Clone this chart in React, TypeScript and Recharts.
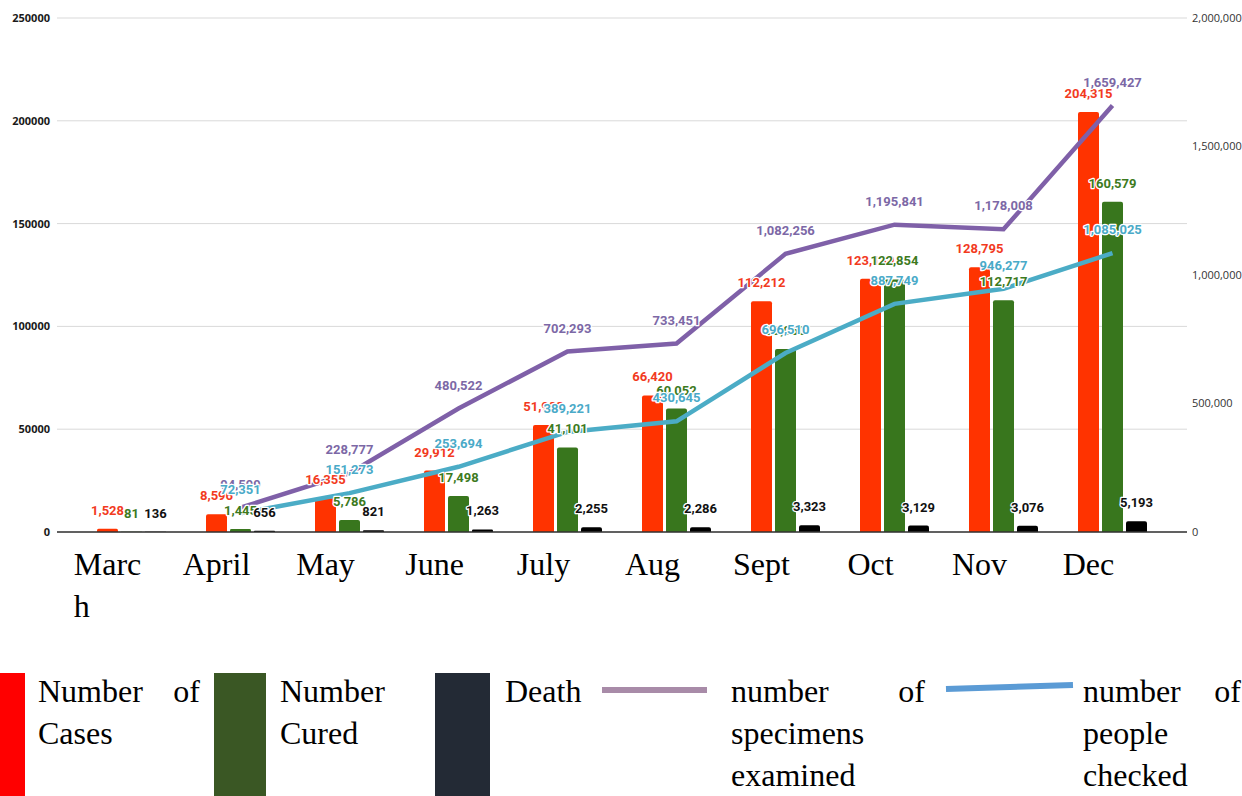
import React from 'react';
import {
  ComposedChart,
  Bar,
  Line,
  XAxis,
  YAxis,
  CartesianGrid,
  LabelList
} from 'recharts';

// monthly figures
const months = ['March', 'April', 'May', 'June', 'July', 'Aug', 'Sept', 'Oct', 'Nov', 'Dec'];
const cases = [1528, 8596, 16355, 29912, 51983, 66420, 112212, 123139, 128795, 204315];
const cured = [81, 1445, 5786, 17498, 41101, 60052, 89060, 122854, 112717, 160579];
const deaths = [136, 656, 821, 1263, 2255, 2286, 3323, 3129, 3076, 5193];
const specimens = [null, 94599, 228777, 480522, 702293, 733451, 1082256, 1195841, 1178008, 1659427];
const peopleChecked = [null, 72351, 151273, 253694, 389221, 430645, 696510, 887749, 946277, 1085025];

const leftTicks = [0, 50000, 100000, 150000, 200000, 250000];
const rightTicks = [0, 500000, 1000000, 1500000, 2000000];

const data = months.map((month, i) => ({
  month,
  cases: cases[i],
  cured: cured[i],
  deaths: deaths[i],
  specimens: specimens[i],
  people: peopleChecked[i]
}));

const SERIF = "'Liberation Serif', 'Times New Roman', serif";

let measureCtx: CanvasRenderingContext2D | null = null;
const textWidth = (s: string) => {
  if (!measureCtx) measureCtx = document.createElement('canvas').getContext('2d');
  if (!measureCtx) return s.length * 16;
  measureCtx.font = `32px ${SERIF}`;
  return measureCtx.measureText(s).width;
};

// break a word by characters when it does not fit the column
const wrapChars = (s: string, max: number) => {
  const out: string[] = [];
  let cur = '';
  for (const ch of s) {
    if (cur && textWidth(cur + ch) > max) {
      out.push(cur);
      cur = ch;
    } else cur += ch;
  }
  if (cur) out.push(cur);
  return out;
};

const MonthTick = (props: any) => {
  const { x, y, payload } = props;
  const lines = wrapChars(String(payload.value), 75);
  const cx = x - 24;
  const left = cx - textWidth(lines[0]) / 2;
  return (
    <text x={left} y={y + 43} textAnchor="start" fontFamily={SERIF} fontSize={32} fill="#000">
      {lines.map((l, i) => (
        <tspan key={i} x={left} dy={i === 0 ? 0 : 42}>{l}</tspan>
      ))}
    </text>
  );
};

const valueLabel = (color: string, offset: number) => (props: any) => {
  const { value } = props;
  if (value === null || value === undefined) return null;
  const vb = props.viewBox ?? props;
  const x = Number(vb.x) + Number(vb.width || 0) / 2;
  const y = Number(vb.y) - offset;
  if (!isFinite(x) || !isFinite(y)) return null;
  return (
    <text
      x={x}
      y={y}
      textAnchor="middle"
      fill={color}
      fontSize={13}
      fontWeight={700}
      fontFamily="Roboto, sans-serif"
      stroke="#fff"
      strokeWidth={2.5}
      strokeLinejoin="round"
      paintOrder="stroke"
    >
      {Number(value).toLocaleString('en-US')}
    </text>
  );
};

const legendText: React.CSSProperties = {
  position: 'absolute',
  top: 670,
  fontFamily: SERIF,
  fontSize: 32,
  lineHeight: '42px',
  textAlign: 'justify',
  color: '#000'
};

const App: React.FC = () => {
  return (
    <div style={{ position: 'absolute', left: 0, top: 0, width: 1242, height: 796, background: '#fff', overflow: 'hidden' }}>
      <ComposedChart
        width={1242}
        height={640}
        data={data}
        margin={{ top: 18, right: 0, bottom: 0, left: 0 }}
        barSize={21}
        barGap={3}
      >
        <CartesianGrid yAxisId="left" vertical={false} stroke="#d9d9d9" />
        <XAxis
          dataKey="month"
          height={108}
          padding={{ left: 20, right: 20 }}
          axisLine={{ stroke: '#333', strokeWidth: 1.5 }}
          tickLine={false}
          tickSize={0}
          tickMargin={0}
          interval={0}
          tick={<MonthTick />}
        />
        <YAxis
          yAxisId="left"
          width={57}
          domain={[0, 250000]}
          ticks={leftTicks}
          axisLine={false}
          tickLine={false}
          tickSize={0}
          tickMargin={7}
          tick={{ fill: '#1a1a1a', fontSize: 11, fontWeight: 700, fontFamily: "'Open Sans', sans-serif" }}
        />
        <YAxis
          yAxisId="right"
          orientation="right"
          width={55}
          domain={[0, 2000000]}
          ticks={rightTicks}
          axisLine={false}
          tickLine={false}
          tickSize={0}
          tickMargin={5}
          textAnchor="start"
          tickFormatter={(v: number) => v.toLocaleString('en-US')}
          tick={{ fill: '#333', fontSize: 11, fontFamily: "'Open Sans', sans-serif", textAnchor: 'start' }}
        />
        <Bar yAxisId="left" dataKey="cases" fill="#ff3300" radius={[2, 2, 0, 0]} isAnimationActive={false}>
          <LabelList dataKey="cases" content={valueLabel('#f23a1e', 14)} />
        </Bar>
        <Bar yAxisId="left" dataKey="cured" fill="#38761d" radius={[2, 2, 0, 0]} isAnimationActive={false}>
          <LabelList dataKey="cured" content={valueLabel('#3d7a1e', 14)} />
        </Bar>
        <Bar yAxisId="left" dataKey="deaths" fill="#000000" radius={[2, 2, 0, 0]} isAnimationActive={false}>
          <LabelList dataKey="deaths" content={valueLabel('#111111', 14)} />
        </Bar>
        <Line
          yAxisId="right"
          type="linear"
          dataKey="specimens"
          stroke="#7f60a8"
          strokeWidth={4.5}
          dot={false}
          activeDot={false}
          isAnimationActive={false}
        >
          <LabelList dataKey="specimens" content={valueLabel('#7c68a6', 19)} />
        </Line>
        <Line
          yAxisId="right"
          type="linear"
          dataKey="people"
          stroke="#4bacc6"
          strokeWidth={4.5}
          dot={false}
          activeDot={false}
          isAnimationActive={false}
        >
          <LabelList dataKey="people" content={valueLabel('#4aaac8', 19)} />
        </Line>
      </ComposedChart>

      {/* legend, drawn as a table-like row under the chart */}
      <div style={{ position: 'absolute', left: 0, top: 673, width: 25, height: 123, background: '#ff0000' }} />
      <div style={{ ...legendText, left: 38, width: 162 }}>Number of Cases</div>
      <div style={{ position: 'absolute', left: 214, top: 673, width: 52, height: 123, background: '#3a5724' }} />
      <div style={{ ...legendText, left: 280, width: 145 }}>Number Cured</div>
      <div style={{ position: 'absolute', left: 435, top: 673, width: 55, height: 123, background: '#232a35' }} />
      <div style={{ ...legendText, left: 505, width: 90 }}>Death</div>
      <svg style={{ position: 'absolute', left: 0, top: 660 }} width={1242} height={50}>
        <line x1={602} y1={30} x2={707} y2={30} stroke="#a88ba8" strokeWidth={6} />
        <line x1={946} y1={29} x2={1073} y2={25} stroke="#5b9bd5" strokeWidth={6} />
      </svg>
      <div style={{ ...legendText, left: 731, width: 194 }}>number of specimens examined</div>
      <div style={{ ...legendText, left: 1083, width: 158 }}>number of people checked</div>
    </div>
  );
};

export default App;
